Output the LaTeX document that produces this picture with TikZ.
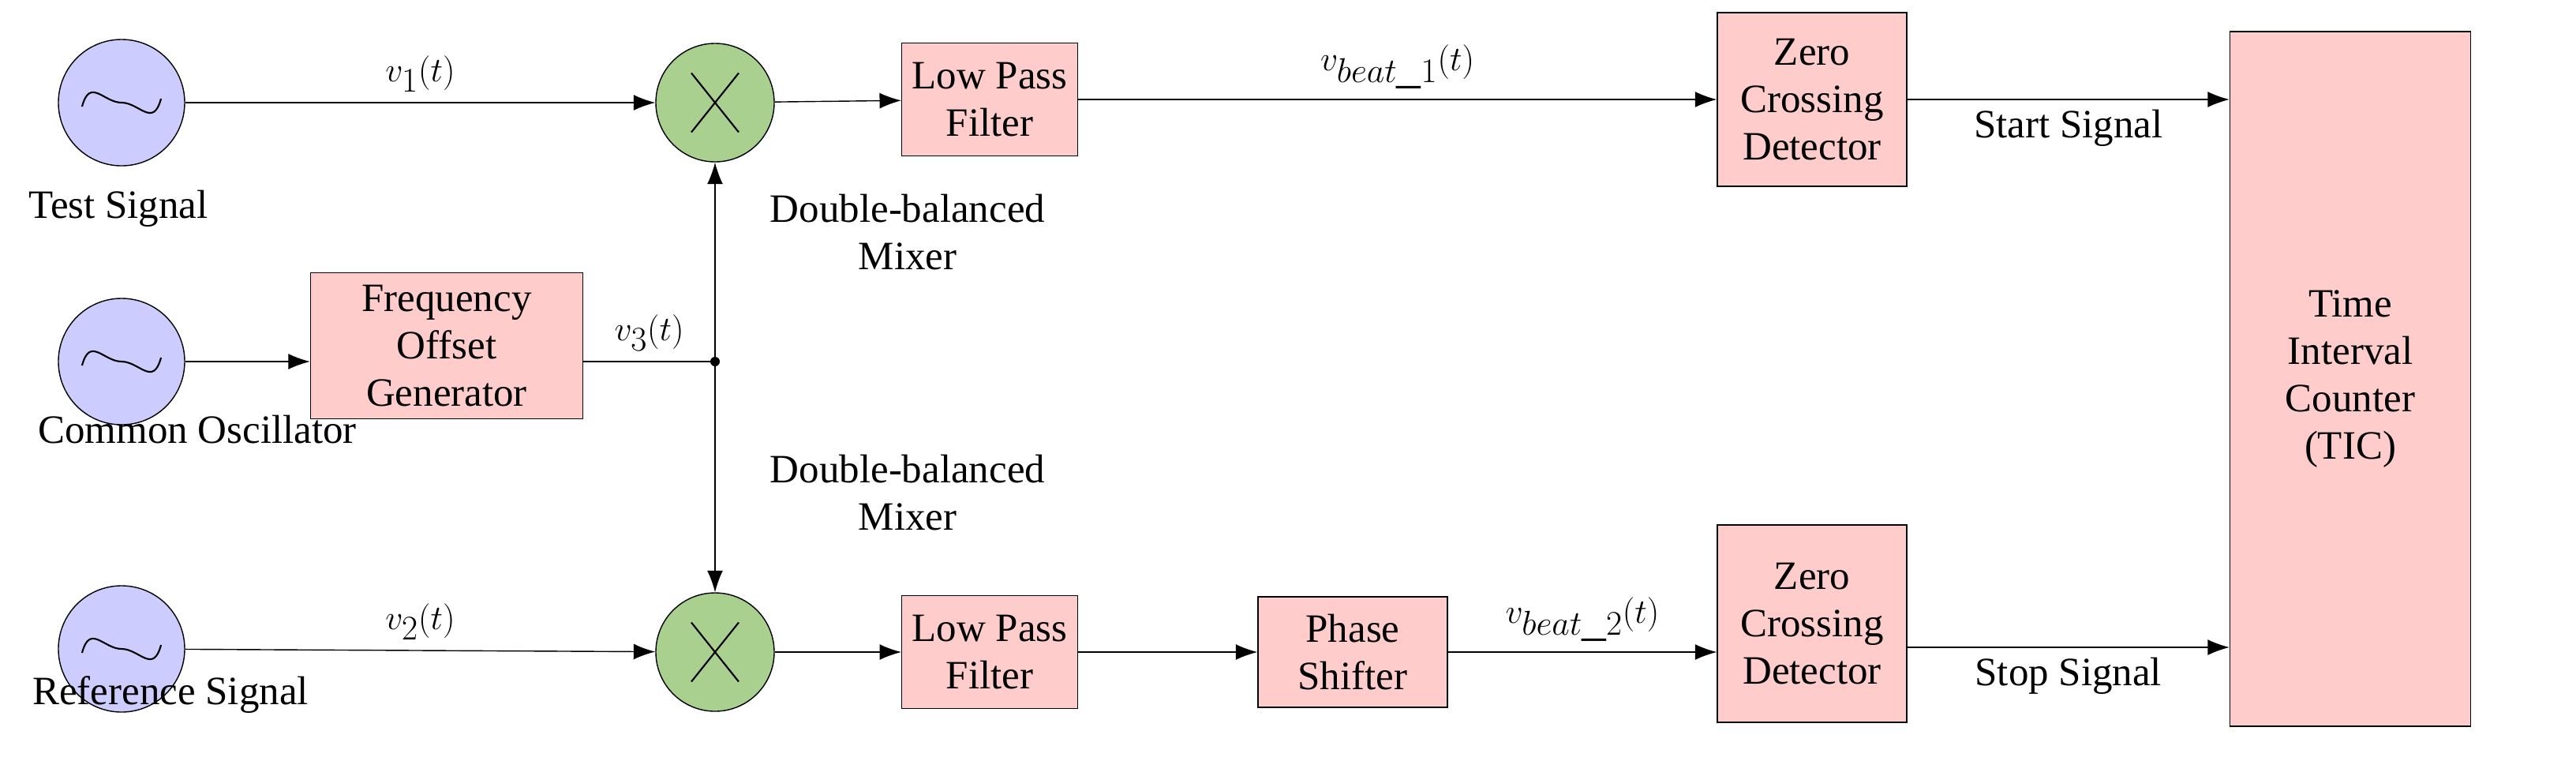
\documentclass[tikz,border=0pt]{standalone}
\usepackage{fontspec}
\setmainfont{Liberation Serif}
\usetikzlibrary{arrows.meta,positioning}
\definecolor{oscblue}{RGB}{204,204,255}
\definecolor{mixgreen}{RGB}{169,208,142}
\definecolor{boxpink}{RGB}{255,204,204}
\tikzset{
  osc/.style={circle,draw,thick,fill=oscblue,minimum size=3.2cm},
  mixer/.style={circle,draw,thick,fill=mixgreen,minimum size=3.0cm},
  block/.style={draw,thick,fill=boxpink,align=center,inner sep=2pt},
  lbl/.style={align=center},
  mlbl/.style={font=\fontsize{35}{40}\selectfont},
  sig/.style={thick,-{Latex[length=0.55cm,width=0.4cm]}}
}
\begin{document}
\begin{tikzpicture}[x=0.04cm,y=-0.04cm,font=\fontsize{29}{34}\selectfont]
    \useasboundingbox (0,0) rectangle (1632,491);

    % sources
    \node[osc] (test) at (77,65) {};
    \node[osc] (comm) at (77,229) {};
    \node[osc] (ref) at (77,411) {};
    \foreach \o in {test,comm,ref}
        \draw[very thick] ([shift={(-1.0cm,-0.1cm)}]\o.center) .. controls +(0.2cm,0.75cm) and +(-0.45cm,0cm) .. (\o.center)
            .. controls +(0.45cm,0cm) and +(-0.2cm,-0.75cm) .. ([shift={(1.0cm,0.1cm)}]\o.center);
    \node[lbl] at (75,132) {Test Signal};
    \node[lbl] at (125,272) {Common Oscillator};
    \node[lbl] at (108,440) {Reference Signal};

    % mixers
    \node[mixer] (mixa) at (453,65) {};
    \node[mixer] (mixb) at (453,413) {};
    \foreach \m in {mixa,mixb}
        \draw[very thick] ([shift={(-0.6cm,-0.75cm)}]\m.center) -- ([shift={(0.6cm,0.75cm)}]\m.center)
            ([shift={(-0.6cm,0.75cm)}]\m.center) -- ([shift={(0.6cm,-0.75cm)}]\m.center);
    \node[lbl] at (575,147) {Double-balanced\\Mixer};
    \node[lbl] at (575,312) {Double-balanced\\Mixer};

    % blocks
    \node[block,minimum width=6.9cm,minimum height=3.7cm] (fog) at (283,219) {Frequency\\Offset\\Generator};
    \node[block,minimum width=4.45cm,minimum height=2.85cm] (lpfa) at (627,63) {Low Pass\\Filter};
    \node[block,minimum width=4.45cm,minimum height=2.85cm] (lpfb) at (627,413) {Low Pass\\Filter};
    \node[block,minimum width=4.8cm,minimum height=2.8cm] (shift) at (857,413) {Phase\\Shifter};
    \node[block,minimum width=4.8cm,minimum height=4.4cm] (zcda) at (1148,63) {Zero\\Crossing\\Detector};
    \node[block,minimum width=4.8cm,minimum height=5.0cm] (zcdb) at (1148,395) {Zero\\Crossing\\Detector};
    \node[block,minimum width=6.1cm,minimum height=17.6cm] (tic) at (1489,240) {Time\\Interval\\Counter\\(TIC)};

    % connections
    \coordinate (junc) at (mixa |- comm);
    \draw[sig] (test) -- node[above=4pt,mlbl] {$v_1(t)$} (mixa);
    \draw[sig] (comm) -- (comm -| fog.west);
    \draw[thick] (comm -| fog.east) -- node[above=4pt,pos=0.5,mlbl] {$v_3(t)$} (junc);
    \fill (junc) circle (0.12cm);
    \draw[sig] (junc) -- (mixa);
    \draw[sig] (junc) -- (mixb);
    \draw[sig] (ref) -- node[above=4pt,mlbl] {$v_2(t)$} (mixb);
    \draw[sig] (mixa) -- (lpfa);
    \draw[sig] (mixb) -- (lpfb);
    \draw[sig] (lpfa) -- node[above=4pt,mlbl] {$v_{beat\_1}(t)$} (zcda);
    \draw[sig] (lpfb) -- (shift);
    \draw[sig] (shift) -- node[above=4pt,mlbl] {$v_{beat\_2}(t)$} (shift -| zcdb.west);
    \draw[sig] (zcda) -- node[below=4pt] {Start Signal} (zcda -| tic.west);
    \draw[sig] ([yshift=-0.6cm]zcdb.east) -- node[below=4pt] {Stop Signal} ([yshift=-0.6cm]zcdb.east -| tic.west);
\end{tikzpicture}
\end{document}
